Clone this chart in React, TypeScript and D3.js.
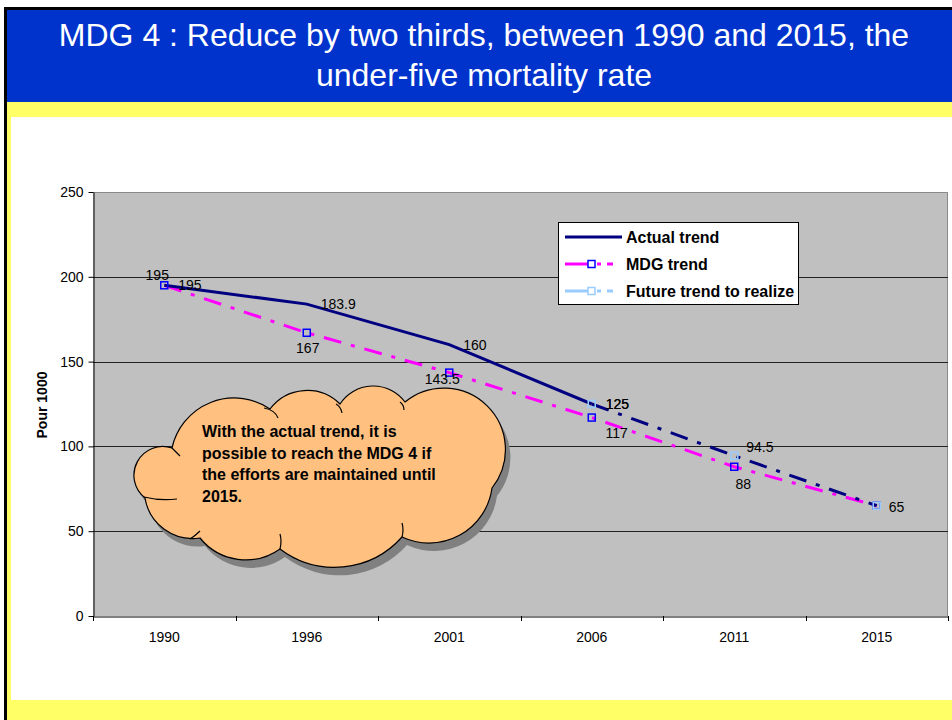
import { useEffect, useRef } from 'react'
import * as d3 from 'd3'

// chart data
const years = ['1990', '1996', '2001', '2006', '2011', '2015']
const actualTrend: (number | null)[] = [195, 183.9, 160, 125, null, null]
const mdgTrend: (number | null)[] = [195, 167, 143.5, 117, 88, 65]
const futureTrend: (number | null)[] = [null, null, null, 125, 94.5, 65]
const yTicks = [0, 50, 100, 150, 200, 250]
const legendLabels = ['Actual trend', 'MDG trend', 'Future trend to realize']
const titleLines = ['MDG 4 : Reduce by two thirds, between 1990 and 2015, the', 'under-five mortality rate']
const cloudLines = ['With the actual trend, it is', 'possible to reach the MDG 4 if', 'the efforts are maintained until', '2015.']

// where each data label sits relative to its point (dx, dy, anchor)
type LabelPos = [number, number, string] | null
const actualLabelPos: LabelPos[] = [[14, 0, 'start'], [14, 0, 'start'], [14, 0, 'start'], [14, 0, 'start'], null, null]
const mdgLabelPos: LabelPos[] = [[-7, -10, 'middle'], [1, 15, 'middle'], [-7, 6, 'middle'], [25, 16, 'middle'], [9, 17, 'middle'], null]
const futureLabelPos: LabelPos[] = [null, null, null, [14, 0, 'start'], [12, -9, 'start'], [12, 1, 'start']]

const FONT = '"Liberation Sans", Arial, sans-serif'
const NAVY = '#000080'
const MAGENTA = '#FF00FF'
const MARKER_BLUE = '#0000FF'
const LIGHT_BLUE = '#99CCFF'
const DASH = '18,10,4,10'

const W = 952
const H = 720

export default function App() {
  const svgRef = useRef<SVGSVGElement>(null)

  useEffect(() => {
    if (!svgRef.current) return
    const svg = d3.select(svgRef.current)
    svg.selectAll('*').remove()

    // slide frame
    svg.append('rect').attr('width', W).attr('height', H).attr('fill', '#fff')
    svg.append('rect').attr('x', 4).attr('y', 7).attr('width', W - 4).attr('height', 3).attr('fill', '#000')
    svg.append('rect').attr('x', 4).attr('y', 7).attr('width', 3).attr('height', H - 7).attr('fill', '#000')
    svg.append('rect').attr('x', 7).attr('y', 10).attr('width', W - 7).attr('height', 92).attr('fill', '#0033CC')
    svg.append('rect').attr('x', 7).attr('y', 102).attr('width', W - 7).attr('height', 15).attr('fill', '#FFFF66')
    svg.append('rect').attr('x', 7).attr('y', 117).attr('width', 4).attr('height', H - 117).attr('fill', '#FFFF66')
    svg.append('rect').attr('x', 7).attr('y', 700).attr('width', W - 7).attr('height', 20).attr('fill', '#FFFF66')

    svg.selectAll('.title')
      .data(titleLines)
      .join('text')
      .attr('class', 'title')
      .attr('x', 484)
      .attr('y', (d, i) => 46 + i * 40)
      .attr('text-anchor', 'middle')
      .attr('font-family', FONT)
      .attr('font-size', 32)
      .attr('fill', '#fff')
      .text(d => d)

    // scales
    const left = 93, right = 948, top = 192, bottom = 616
    const x = d3.scaleBand().domain(years).range([left, right]).padding(0)
    const cx = (yr: string) => (x(yr) || 0) + x.bandwidth() / 2
    const y = d3.scaleLinear().domain([0, 250]).range([bottom, top])

    // plot area
    svg.append('rect')
      .attr('x', left).attr('y', top)
      .attr('width', right - left).attr('height', bottom - top)
      .attr('fill', '#C0C0C0')
    svg.append('path')
      .attr('d', `M${left},${top + 0.5}H${right - 0.5}V${bottom}`)
      .attr('fill', 'none')
      .attr('stroke', '#8a8a8a')

    svg.selectAll('.grid')
      .data(yTicks.filter(t => t > 0 && t < 250))
      .join('line')
      .attr('class', 'grid')
      .attr('x1', left).attr('x2', right)
      .attr('y1', d => Math.round(y(d)) + 0.5).attr('y2', d => Math.round(y(d)) + 0.5)
      .attr('stroke', '#222')

    // y axis
    const yAxis = svg.append('g')
      .attr('transform', `translate(${left + 0.5},0)`)
      .call(d3.axisLeft(y).tickValues(yTicks).tickSize(5).tickPadding(5).tickSizeOuter(0))
    yAxis.select('.domain').attr('stroke', '#000')
    yAxis.selectAll('line').attr('stroke', '#000')
    yAxis.selectAll('text').attr('font-family', FONT).attr('font-size', 14).attr('fill', '#000')

    svg.append('text')
      .attr('transform', `translate(47, 405) rotate(-90)`)
      .attr('text-anchor', 'middle')
      .attr('font-family', FONT)
      .attr('font-size', 14)
      .attr('font-weight', 'bold')
      .text('Pour 1000')

    // x axis: labels at band centres, ticks at band edges
    const xAxis = svg.append('g')
      .attr('transform', `translate(0,${bottom + 0.5})`)
      .call(d3.axisBottom(x).tickSize(0).tickPadding(16).tickSizeOuter(0))
    xAxis.select('.domain').attr('stroke', '#000')
    xAxis.selectAll('text').attr('font-family', FONT).attr('font-size', 14).attr('fill', '#000')
    svg.selectAll('.xtick')
      .data([...years.map(d => x(d) || 0), right])
      .join('line')
      .attr('class', 'xtick')
      .attr('x1', d => Math.round(d) + 0.5).attr('x2', d => Math.round(d) + 0.5)
      .attr('y1', bottom).attr('y2', bottom + 5)
      .attr('stroke', '#000')

    // series
    type Pt = { yr: string; v: number | null }
    const pts = (vals: (number | null)[]): Pt[] => years.map((yr, i) => ({ yr, v: vals[i] }))
    const line = d3.line<Pt>()
      .defined(d => d.v !== null)
      .x(d => cx(d.yr))
      .y(d => y(d.v as number))

    svg.append('path')
      .datum(pts(mdgTrend))
      .attr('d', line)
      .attr('fill', 'none')
      .attr('stroke', MAGENTA)
      .attr('stroke-width', 3)
      .attr('stroke-dasharray', DASH)

    svg.append('path')
      .datum(pts(actualTrend))
      .attr('d', line)
      .attr('fill', 'none')
      .attr('stroke', NAVY)
      .attr('stroke-width', 3)

    svg.append('path')
      .datum(pts(futureTrend))
      .attr('d', line)
      .attr('fill', 'none')
      .attr('stroke', NAVY)
      .attr('stroke-width', 3)
      .attr('stroke-dasharray', DASH)

    const markers = (vals: (number | null)[], color: string) => {
      svg.append('g')
        .selectAll('rect')
        .data(pts(vals).filter(d => d.v !== null))
        .join('rect')
        .attr('x', d => cx(d.yr) - 3.5)
        .attr('y', d => y(d.v as number) - 3.5)
        .attr('width', 7)
        .attr('height', 7)
        .attr('fill', 'none')
        .attr('stroke', color)
        .attr('stroke-width', 1.5)
    }
    markers(mdgTrend, MARKER_BLUE)
    markers(futureTrend, LIGHT_BLUE)

    const labels = (vals: (number | null)[], pos: LabelPos[]) => {
      svg.append('g')
        .selectAll('text')
        .data(pts(vals).map((d, i) => ({ ...d, p: pos[i] })).filter(d => d.v !== null && d.p))
        .join('text')
        .attr('x', d => cx(d.yr) + (d.p as any)[0])
        .attr('y', d => y(d.v as number) + (d.p as any)[1])
        .attr('dy', '0.35em')
        .attr('text-anchor', d => (d.p as any)[2])
        .attr('font-family', FONT)
        .attr('font-size', 14)
        .attr('fill', '#000')
        .text(d => String(d.v))
    }
    labels(actualTrend, actualLabelPos)
    labels(mdgTrend, mdgLabelPos)
    labels(futureTrend, futureLabelPos)

    // legend
    const lg = svg.append('g').attr('transform', 'translate(558,222)')
    lg.append('rect').attr('x', 0.5).attr('y', 0.5).attr('width', 240).attr('height', 82)
      .attr('fill', '#fff').attr('stroke', '#000')
    const legendStyles = [
      { stroke: NAVY, dash: null, marker: null },
      { stroke: MAGENTA, dash: DASH, marker: MARKER_BLUE },
      { stroke: LIGHT_BLUE, dash: DASH, marker: LIGHT_BLUE },
    ]
    legendLabels.forEach((label, i) => {
      const ly = 15 + i * 27
      const st = legendStyles[i]
      lg.append('line')
        .attr('x1', 7).attr('x2', 64).attr('y1', ly).attr('y2', ly)
        .attr('stroke', st.stroke).attr('stroke-width', 3)
        .attr('stroke-dasharray', st.dash ? '26,6,4,6,6' : null)
      if (st.marker) {
        lg.append('rect')
          .attr('x', 30).attr('y', ly - 3.5).attr('width', 7).attr('height', 7)
          .attr('fill', '#fff').attr('stroke', st.marker).attr('stroke-width', 1.5)
      }
      lg.append('text')
        .attr('x', 68).attr('y', ly).attr('dy', '0.36em')
        .attr('font-family', FONT).attr('font-size', 16).attr('font-weight', 'bold')
        .text(label)
    })

    // cloud callout
    const cloudPts: [number, number, number][] = [
      [172, 448, 0],
      [270, 409, 28],
      [340, 404, 16],
      [405, 402, 17],
      [492, 488, 55],
      [402, 537, 26],
      [280, 549, 24],
      [200, 538, 16],
      [145, 498, 14],
      [172, 448, 24],
    ]
    let d = `M${cloudPts[0][0]},${cloudPts[0][1]}`
    for (let i = 1; i < cloudPts.length; i++) {
      const [x0, y0] = cloudPts[i - 1]
      const [x1, y1, h] = cloudPts[i]
      const c = Math.hypot(x1 - x0, y1 - y0)
      const r = (c * c / 4 + h * h) / (2 * h)
      const large = h > c / 2 ? 1 : 0
      d += `A${r},${r} 0 ${large} 1 ${x1},${y1}`
    }
    d += 'Z'
    svg.append('path').attr('d', d).attr('transform', 'translate(5,8)').attr('fill', '#808080')
    svg.append('path').attr('d', d).attr('fill', '#FFC080').attr('stroke', '#000').attr('stroke-width', 1.2)

    // small inner folds of the cloud outline
    const folds = [
      'M264,408 Q275,410 278,418',
      'M336,404 Q341,407 342,413',
      'M400,402 Q404,405 404,410',
      'M144,497 Q160,501 177,499',
      'M190,539 Q195,536 200,531',
      'M280,549 Q282,541 280,534',
      'M402,537 Q404,530 402,523',
      'M172,448 Q176,452 180,456',
    ]
    svg.selectAll('.fold')
      .data(folds)
      .join('path')
      .attr('class', 'fold')
      .attr('d', f => f)
      .attr('fill', 'none')
      .attr('stroke', '#000')
      .attr('stroke-width', 1.2)

    svg.selectAll('.cloudtext')
      .data(cloudLines)
      .join('text')
      .attr('class', 'cloudtext')
      .attr('x', 202)
      .attr('y', (t, i) => 437 + i * 21.5)
      .attr('font-family', FONT)
      .attr('font-size', 16)
      .attr('font-weight', 'bold')
      .text(t => t)
  }, [])

  return (
    <div style={{ position: 'absolute', left: 0, top: 0 }}>
      <svg ref={svgRef} width={W} height={H} style={{ display: 'block' }} />
    </div>
  )
}
